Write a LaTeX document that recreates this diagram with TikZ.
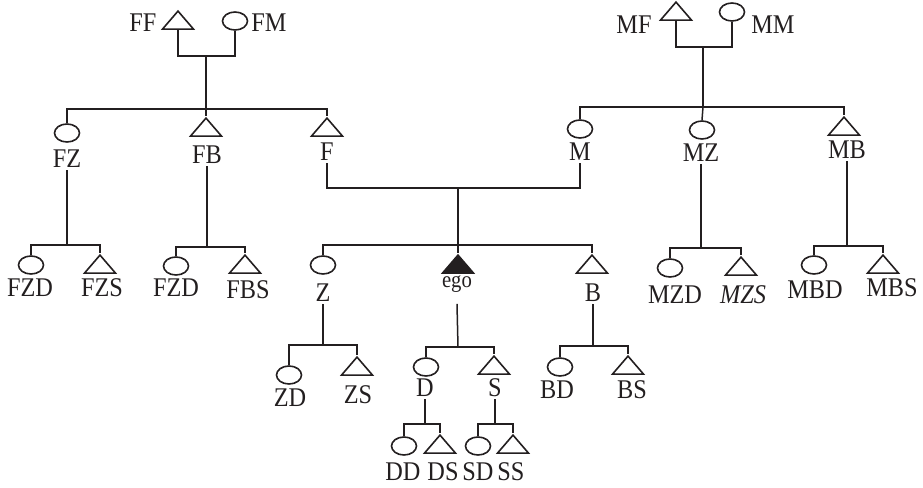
\documentclass[tikz,border=0pt]{standalone}
\usepackage{fontspec}
\setmainfont{Liberation Serif}[FakeStretch=0.9]
\usepackage{tikz}
\usetikzlibrary{shapes.geometric,positioning}
\definecolor{ink}{HTML}{231F20}
\tikzset{
  female/.style={ellipse, draw=ink, line width=0.8pt, minimum width=12.5pt, minimum height=9pt, inner sep=0pt},
  male/.style={isosceles triangle, shape border rotate=90, isosceles triangle stretches,
    draw=ink, line width=0.8pt, minimum width=15.5pt, minimum height=9pt, inner sep=0pt},
  egomark/.style={male, fill=ink},
  kinlabel/.style={inner sep=1pt, text=ink, font=\fontsize{13.5}{15}\selectfont},
  kinline/.style={draw=ink, line width=0.75pt},
  heavyline/.style={draw=ink, line width=1.2pt}
}
\begin{document}
\begin{tikzpicture}[x=0.5pt,y=-0.5pt]
  \useasboundingbox (0,0) rectangle (923,488);

  % grandparents
  \node[male] (ff) at (178,22) {};
  \node[female] (fm) at (235,21) {};
  \node[kinlabel] (ffl) at (143,23) {FF};
  \node[kinlabel] (fml) at (269,23) {FM};
  \node[male] (mf) at (676,13) {};
  \node[female] (mm) at (732,12) {};
  \node[kinlabel] (mfl) at (634,25) {MF};
  \node[kinlabel] (mml) at (773,25) {MM};

  % parents generation
  \node[female] (fz) at (67,133) {};
  \node[male] (fb) at (206,129) {};
  \node[male] (f) at (327,129) {};
  \node[female] (m) at (580,129) {};
  \node[female] (mz) at (702,130) {};
  \node[male] (mb) at (844,128) {};
  \node[kinlabel] (fzl) at (67,159) {FZ};
  \node[kinlabel] (fbl) at (207,155) {FB};
  \node[kinlabel] (fl) at (327,152) {F};
  \node[kinlabel] (ml) at (580,152) {M};
  \node[kinlabel] (mzl) at (701,153) {MZ};
  \node[kinlabel] (mbl) at (847,150) {MB};

  % ego generation
  \node[female] (fzd) at (31,265) {};
  \node[male] (fzs) at (100,266) {};
  \node[female] (fbd) at (176,266) {};
  \node[male] (fbs) at (245,266) {};
  \node[female] (z) at (323,265) {};
  \node[egomark] (ego) at (458,266) {};
  \node[male] (b) at (592,266) {};
  \node[female] (mzd) at (670,268) {};
  \node[male] (mzs) at (741,268) {};
  \node[female] (mbd) at (814,265) {};
  \node[male] (mbs) at (883,266) {};
  \node[kinlabel] (fzdl) at (30,288) {FZD};
  \node[kinlabel] (fzsl) at (102,288) {FZS};
  \node[kinlabel] (fbdl) at (176,288) {FZD};
  \node[kinlabel] (fbsl) at (248,290) {FBS};
  \node[kinlabel] (zl) at (323,293) {Z};
  \node[kinlabel, font=\fontsize{11.5}{13}\selectfont] (egol) at (457,284) {ego};
  \node[kinlabel] (bl) at (593,293) {B};
  \node[kinlabel] (mzdl) at (675,295) {MZD};
  \node[kinlabel] (mzsl) at (743,295) {\textit{MZS}};
  \node[kinlabel] (mbdl) at (815,290) {MBD};
  \node[kinlabel] (mbsl) at (892,288) {MBS};

  % children generation
  \node[female] (zd) at (289,375) {};
  \node[male] (zs) at (357,368) {};
  \node[female] (d) at (426,367) {};
  \node[male] (s) at (494,367) {};
  \node[female] (bd) at (560,367) {};
  \node[male] (bs) at (628,367) {};
  \node[kinlabel] (zdl) at (290,398) {ZD};
  \node[kinlabel] (zsl) at (358,395) {ZS};
  \node[kinlabel] (dl) at (425,388) {D};
  \node[kinlabel] (sl) at (495,388) {S};
  \node[kinlabel] (bdl) at (557,390) {BD};
  \node[kinlabel] (bsl) at (632,390) {BS};

  % grandchildren
  \node[female] (dd) at (404,446) {};
  \node[male] (ds) at (440,446) {};
  \node[female] (sd) at (478,446) {};
  \node[male] (ss) at (513,446) {};
  \node[kinlabel] (ddl) at (403,472) {DD};
  \node[kinlabel] (dsl) at (443,472) {DS};
  \node[kinlabel] (sdl) at (478,472) {SD};
  \node[kinlabel] (ssl) at (511,472) {SS};

  % junctions
  \coordinate (ffm) at (206,56);
  \coordinate (fsib) at (206,109);
  \coordinate (mmf) at (703,47);
  \coordinate (msib) at (703,107);
  \coordinate (fmm) at (458,188);
  \coordinate (egosib) at (458,245);
  \coordinate (fzsib) at (67,245);
  \coordinate (fbsib) at (207,247);
  \coordinate (mzsib) at (701,248);
  \coordinate (mbsib) at (847,246);
  \coordinate (zsib) at (323,345);
  \coordinate (egochild) at (458,347);
  \coordinate (bsib) at (593,346);
  \coordinate (dsib) at (425,424);
  \coordinate (ssib) at (495,424);

  % father's side
  \draw[kinline] (ff.south) -- (ff.south |- ffm) -- (fm.south |- ffm) -- (fm.south);
  \draw[kinline] (ffm) -- (fsib);
  \draw[kinline] (fz.north) |- (fsib) -| (f.north);
  \draw[kinline] (fsib) -- (fb.north);
  \draw[kinline] (fzl.south) -- (fzsib);
  \draw[kinline] (fzd.north) |- (fzsib) -| (fzs.north);
  \draw[kinline] (fbl.south) -- (fbsib);
  \draw[kinline] (fbd.north) |- (fbsib) -| (fbs.north);

  % mother's side
  \draw[kinline] (mf.south) -- (mf.south |- mmf) -- (mm.south |- mmf) -- (mm.south);
  \draw[kinline] (mmf) -- (msib);
  \draw[kinline] (m.north) |- (msib) -| (mb.north);
  \draw[kinline] (msib) -- (mz.north);
  \draw[heavyline] (mzl.south) -- (mzsib);
  \draw[kinline] (mzd.north) |- (mzsib) -| (mzs.north);
  \draw[heavyline] (mbl.south) -- (mbsib);
  \draw[kinline] (mbd.north) |- (mbsib) -| (mbs.north);

  % parents and siblings
  \draw[kinline] (fl.south) |- (fmm) -| (ml.south);
  \draw[kinline] (fmm) -- (egosib);
  \draw[kinline] (z.north) |- (egosib) -| (b.north);
  \draw[kinline] (egosib) -- (ego.north);
  \draw[heavyline] (zl.south) -- (zsib);
  \draw[kinline] (zd.north) |- (zsib) -| (zs.north);
  \draw[kinline] (egol.south) ++(0,9) -- (egochild);
  \draw[kinline] (d.north) |- (egochild) -| (s.north);
  \draw[heavyline] (bl.south) -- (bsib);
  \draw[kinline] (bd.north) |- (bsib) -| (bs.north);

  % grandchildren
  \draw[heavyline] (dl.south) -- (dsib);
  \draw[kinline] (dd.north) |- (dsib) -| (ds.north);
  \draw[heavyline] (sl.south) -- (ssib);
  \draw[kinline] (sd.north) |- (ssib) -| (ss.north);
\end{tikzpicture}
\end{document}
